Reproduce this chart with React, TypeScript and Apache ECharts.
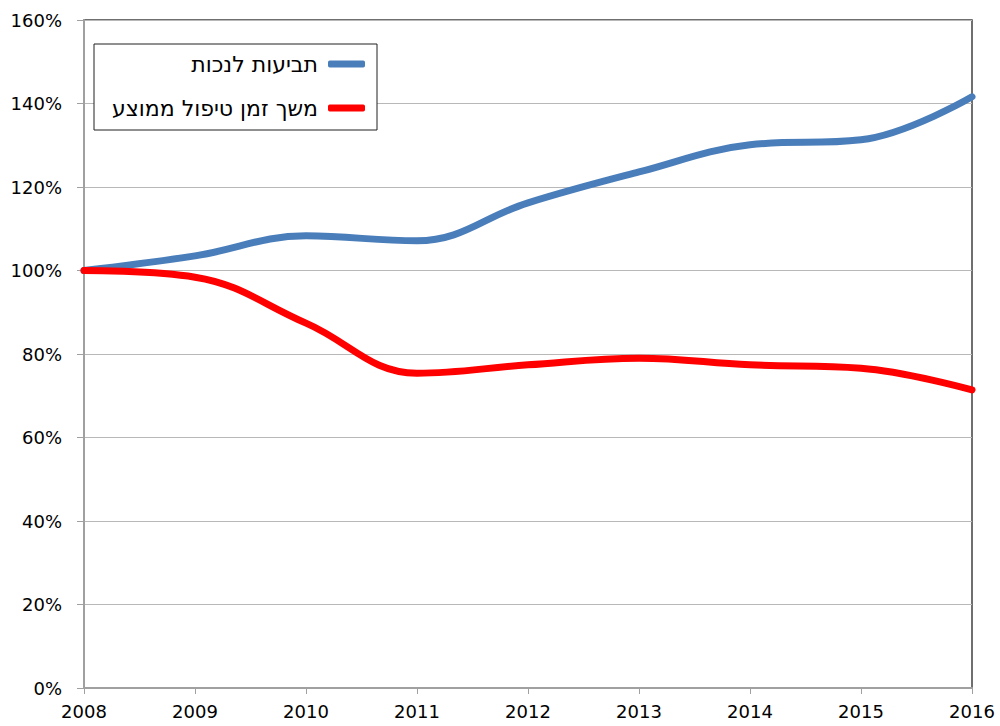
import React, { useEffect, useRef } from "react";
import * as echarts from "echarts";

const years = ["2008", "2009", "2010", "2011", "2012", "2013", "2014", "2015", "2016"];
const claimsName = "תביעות לנכות";
const durationName = "משך זמן טיפול ממוצע";
const claims = [100, 103.5, 108.3, 107.1, 116.2, 123.6, 130.1, 131.3, 141.6];
const duration = [100, 98.4, 87.4, 75.4, 77.4, 79.0, 77.4, 76.6, 71.4];
const yTicks = [0, 20, 40, 60, 80, 100, 120, 140, 160];

export default function App() {
  const ref = useRef<HTMLDivElement>(null);
  useEffect(() => {
    const chart = echarts.init(ref.current!, null, { renderer: "svg" });
    const font = "DejaVu Sans, Verdana, sans-serif";
    chart.setOption({
      animation: false,
      backgroundColor: "#ffffff",
      grid: {
        left: 84,
        right: 28,
        top: 20,
        bottom: 38,
        show: true,
        borderColor: "#404040",
        borderWidth: 1.5,
        backgroundColor: "transparent",
      },
      legend: {
        left: 94,
        top: 44,
        orient: "vertical",
        align: "right",
        backgroundColor: "#ffffff",
        borderColor: "#202020",
        borderWidth: 1,
        padding: [7, 12, 9, 18],
        itemGap: 18,
        itemWidth: 37,
        itemHeight: 7,
        icon: "roundRect",
        textStyle: {
          fontFamily: font,
          fontSize: 22,
          color: "#000",
          lineHeight: 26,
          padding: [0, 5, 0, 0],
        },
        data: [claimsName, durationName],
      },
      xAxis: {
        type: "category",
        data: years,
        boundaryGap: false,
        axisLine: { lineStyle: { color: "#a0a0a0", width: 2 } },
        axisTick: { show: true, length: 6, lineStyle: { color: "#a0a0a0", width: 1 } },
        axisLabel: { fontFamily: font, fontSize: 18, color: "#000", margin: 14 },
        splitLine: { show: false },
      },
      yAxis: {
        type: "value",
        min: yTicks[0],
        max: yTicks[yTicks.length - 1],
        interval: 20,
        axisLine: { show: true, lineStyle: { color: "#a0a0a0", width: 2 } },
        axisTick: { show: true, length: 7, lineStyle: { color: "#a0a0a0", width: 1 } },
        axisLabel: {
          fontFamily: font,
          fontSize: 18,
          color: "#000",
          margin: 22,
          formatter: (v: number) => `${v}%`,
        },
        splitLine: { show: true, lineStyle: { color: "#b8b8b8", width: 1 } },
      },
      series: [
        {
          name: claimsName,
          type: "line",
          data: claims,
          smooth: 0.4,
          showSymbol: false,
          symbol: "none",
          lineStyle: { color: "#4a7ebb", width: 7, cap: "round" },
          itemStyle: { color: "#4a7ebb" },
        },
        {
          name: durationName,
          type: "line",
          data: duration,
          smooth: 0.4,
          showSymbol: false,
          symbol: "none",
          lineStyle: { color: "#ff0000", width: 7, cap: "round" },
          itemStyle: { color: "#ff0000" },
        },
      ],
    });
    return () => chart.dispose();
  }, []);
  return <div ref={ref} style={{ width: 1000, height: 726, position: "absolute", left: 0, top: 0 }} />;
}
